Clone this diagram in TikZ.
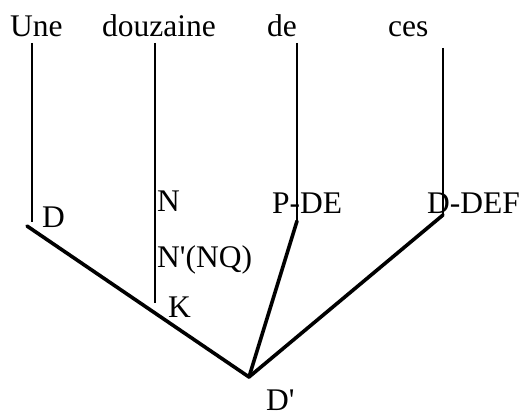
\documentclass[tikz,border=0pt]{standalone}
\usepackage{fontspec}
\setmainfont{Liberation Serif}
\begin{document}
\begin{tikzpicture}[x=1pt,y=-1pt,
  word/.style={anchor=base west,inner sep=0pt,font=\fontsize{31.5}{31.5}\selectfont},
  stem/.style={line width=2.2pt},
  branch/.style={line width=3.6pt,line cap=round,line join=round}]
\useasboundingbox (0,0) rectangle (519,417);
% words of the phrase
\node[word] (une) at (10,37) {Une};
\node[word] (douz) at (102,37) {douzaine};
\node[word] (de) at (267,37) {de};
\node[word] (ces) at (388,37) {ces};
% category labels
\node[word] (lD) at (42,227) {D};
\node[word] (lN) at (157,211) {N};
\node[word] (lNp) at (157,267) {N\textquotesingle(NQ)};
\node[word] (lK) at (168,317) {K};
\node[word] (lPDE) at (272,213) {P-DE};
\node[word] (lDDEF) at (427,213) {D-DEF};
\node[word] (lDp) at (266,410) {D\textquotesingle};
% stems
\coordinate (uneT) at (32,43);  \coordinate (uneB) at (32,222);
\coordinate (douzT) at (155,43); \coordinate (douzB) at (155,303);
\coordinate (deT) at (297,43);  \coordinate (deB) at (297,221);
\coordinate (cesT) at (443,48); \coordinate (cesB) at (443,215);
\coordinate (dleft) at (27,226);
\coordinate (apex) at (249,377);
\draw[stem] (uneT) -- (uneB);
\draw[stem] (douzT) -- (douzB);
\draw[stem] (deT) -- (deB);
\draw[stem] (cesT) -- (cesB);
% branches meeting at D'
\draw[branch] (dleft) -- (apex);
\draw[branch] (deB) -- (apex);
\draw[branch] (cesB) -- (apex);
\end{tikzpicture}
\end{document}
